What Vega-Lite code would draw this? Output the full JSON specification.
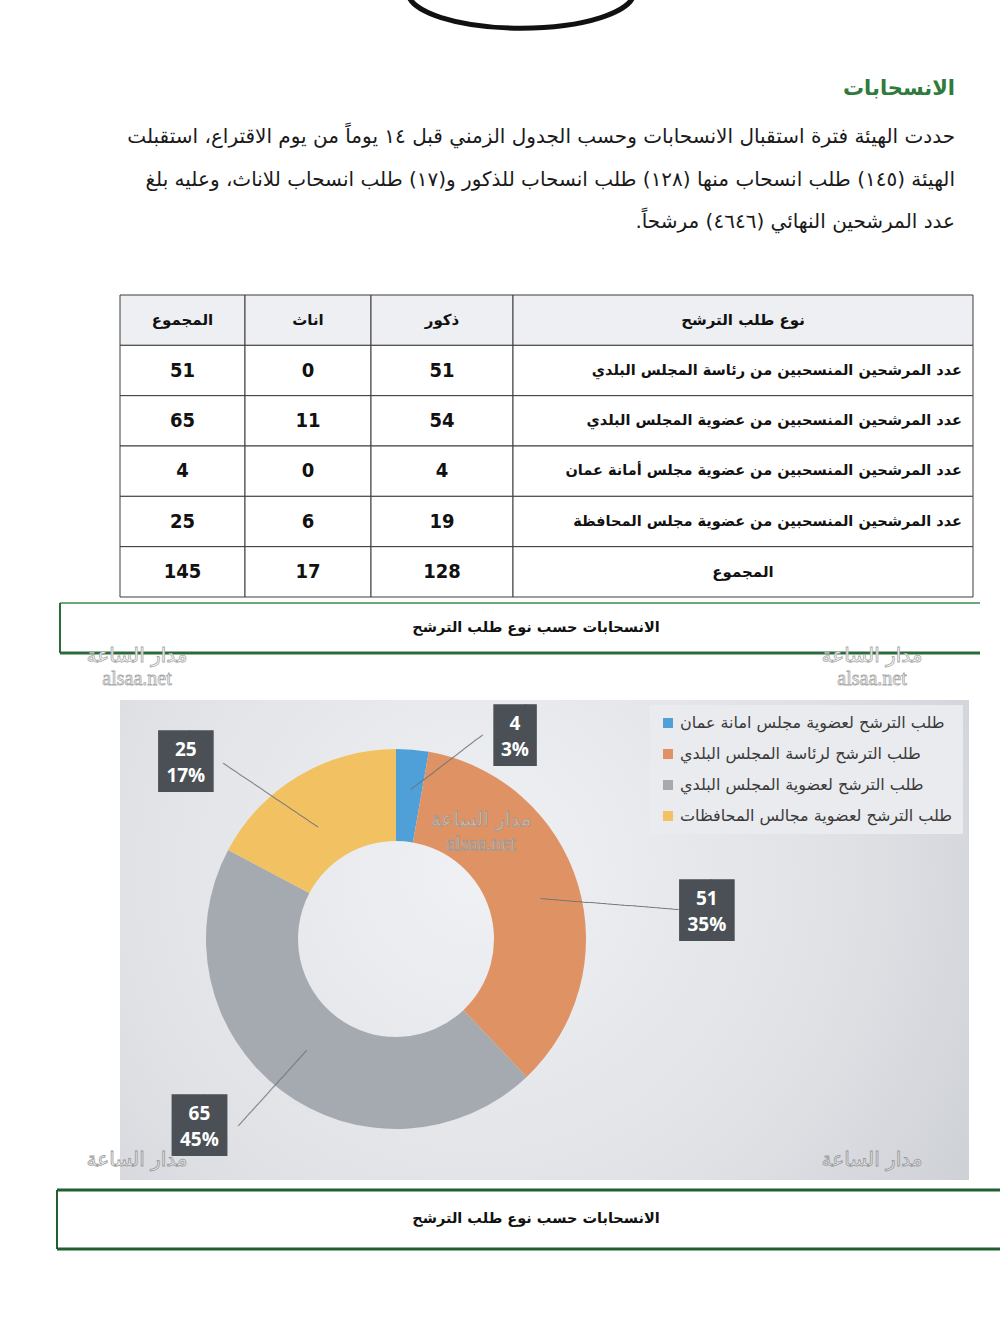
{
  "$schema": "https://vega.github.io/schema/vega-lite/v6.json",
  "background": "white",
  "padding": 0,
  "spacing": 0,
  "config": {"view": {"stroke": null}, "font": "DejaVu Sans", "concat": {"spacing": 0}},
  "datasets": {
    "heading": [{"t": "الانسحابات"}],
    "para": [
      {"line": 1, "t": "حددت الهيئة فترة استقبال الانسحابات وحسب الجدول الزمني قبل ١٤ يوماً من يوم الاقتراع، استقبلت"},
      {"line": 2, "t": "الهيئة (١٤٥) طلب انسحاب منها (١٢٨) طلب انسحاب للذكور و(١٧) طلب انسحاب للاناث، وعليه بلغ"},
      {"line": 3, "t": "عدد المرشحين النهائي (٤٦٤٦) مرشحاً.\u200f"}
    ],
    "table": [
      {"r": "h", "type": "نوع طلب الترشح", "male": "ذكور", "female": "اناث", "total": "المجموع"},
      {"r": "1", "type": "عدد المرشحين المنسحبين من رئاسة المجلس البلدي", "male": 51, "female": 0, "total": 51},
      {"r": "2", "type": "عدد المرشحين المنسحبين من عضوية المجلس البلدي", "male": 54, "female": 11, "total": 65},
      {"r": "3", "type": "عدد المرشحين المنسحبين من عضوية مجلس أمانة عمان", "male": 4, "female": 0, "total": 4},
      {"r": "4", "type": "عدد المرشحين المنسحبين من عضوية مجلس المحافظة", "male": 19, "female": 6, "total": 25},
      {"r": "5", "type": "المجموع", "male": 128, "female": 17, "total": 145}
    ],
    "caption": [{"t": "الانسحابات حسب نوع طلب الترشح"}],
    "donut": [
      {"cat": "طلب الترشح لعضوية مجلس امانة عمان", "value": 4, "pct": "3%", "ord": 1},
      {"cat": "طلب الترشح لرئاسة المجلس البلدي", "value": 51, "pct": "35%", "ord": 2},
      {"cat": "طلب الترشح لعضوية المجلس البلدي", "value": 65, "pct": "45%", "ord": 3},
      {"cat": "طلب الترشح لعضوية مجالس المحافظات", "value": 25, "pct": "17%", "ord": 4}
    ],
    "wm": [{"a": "مدار الساعة", "b": "alsaa.net"}],
    "blank": [{"k": 1}]
  },
  "vconcat": [
    {
      "width": 1000, "height": 294,
      "layer": [
        {"data": {"name": "blank"}, "mark": {"type": "point", "shape": "M -1 0 A 1 0.32 0 1 0 1 0 A 1 0.32 0 1 0 -1 0 Z", "size": 51076, "filled": false, "stroke": "#111111", "strokeWidth": 5, "opacity": 1, "clip": true}, "encoding": {"x": {"value": 521}, "y": {"value": -8}}},
        {"data": {"name": "heading"}, "mark": {"type": "text", "align": "right", "baseline": "middle", "fontSize": 21, "fontWeight": "bold", "fill": "#2e7b3c", "x": 955, "y": 89}, "encoding": {"text": {"field": "t"}}},
        {"data": {"name": "para"}, "mark": {"type": "text", "align": "right", "baseline": "middle", "fontSize": 20, "fill": "#1a1a1a", "x": 955}, "encoding": {"text": {"field": "t"}, "y": {"field": "line", "type": "quantitative", "scale": {"domain": [1, 3], "range": [137, 222]}, "axis": null}}}
      ]
    },
    {
      "bounds": "flush",
      "hconcat": [
        {"width": 120, "height": 302, "data": {"name": "blank"}, "mark": {"type": "text"}, "encoding": {"text": {"value": ""}}},
        {
          "width": 125, "height": 302, "data": {"name": "table"},
          "encoding": {"y": {"field": "r", "type": "nominal", "scale": {"domain": ["h", "1", "2", "3", "4", "5"], "paddingInner": 0, "paddingOuter": 0}, "axis": null}},
          "layer": [
            {"mark": {"type": "rect", "stroke": "#3c3c3c", "strokeWidth": 1}, "encoding": {"fill": {"condition": {"test": "datum.r === 'h'", "value": "#eeeff3"}, "value": "#ffffff"}}},
            {"transform": [{"filter": "datum.r === 'h'"}], "mark": {"type": "text", "fontWeight": "bold", "fontSize": 15, "fill": "#111111"}, "encoding": {"text": {"field": "total"}}},
            {"transform": [{"filter": "datum.r !== 'h'"}], "mark": {"type": "text", "font": "Liberation Sans Narrow, DejaVu Sans Condensed, Liberation Sans, sans-serif", "fontWeight": "bold", "fontSize": 20, "fill": "#111111"}, "encoding": {"text": {"field": "total"}}}
          ]
        },
        {
          "width": 126, "height": 302, "data": {"name": "table"},
          "encoding": {"y": {"field": "r", "type": "nominal", "scale": {"domain": ["h", "1", "2", "3", "4", "5"], "paddingInner": 0, "paddingOuter": 0}, "axis": null}},
          "layer": [
            {"mark": {"type": "rect", "stroke": "#3c3c3c", "strokeWidth": 1}, "encoding": {"fill": {"condition": {"test": "datum.r === 'h'", "value": "#eeeff3"}, "value": "#ffffff"}}},
            {"transform": [{"filter": "datum.r === 'h'"}], "mark": {"type": "text", "fontWeight": "bold", "fontSize": 15, "fill": "#111111"}, "encoding": {"text": {"field": "female"}}},
            {"transform": [{"filter": "datum.r !== 'h'"}], "mark": {"type": "text", "font": "Liberation Sans Narrow, DejaVu Sans Condensed, Liberation Sans, sans-serif", "fontWeight": "bold", "fontSize": 20, "fill": "#111111"}, "encoding": {"text": {"field": "female"}}}
          ]
        },
        {
          "width": 142, "height": 302, "data": {"name": "table"},
          "encoding": {"y": {"field": "r", "type": "nominal", "scale": {"domain": ["h", "1", "2", "3", "4", "5"], "paddingInner": 0, "paddingOuter": 0}, "axis": null}},
          "layer": [
            {"mark": {"type": "rect", "stroke": "#3c3c3c", "strokeWidth": 1}, "encoding": {"fill": {"condition": {"test": "datum.r === 'h'", "value": "#eeeff3"}, "value": "#ffffff"}}},
            {"transform": [{"filter": "datum.r === 'h'"}], "mark": {"type": "text", "fontWeight": "bold", "fontSize": 15, "fill": "#111111"}, "encoding": {"text": {"field": "male"}}},
            {"transform": [{"filter": "datum.r !== 'h'"}], "mark": {"type": "text", "font": "Liberation Sans Narrow, DejaVu Sans Condensed, Liberation Sans, sans-serif", "fontWeight": "bold", "fontSize": 20, "fill": "#111111"}, "encoding": {"text": {"field": "male"}}}
          ]
        },
        {
          "width": 460, "height": 302, "data": {"name": "table"},
          "encoding": {"y": {"field": "r", "type": "nominal", "scale": {"domain": ["h", "1", "2", "3", "4", "5"], "paddingInner": 0, "paddingOuter": 0}, "axis": null}},
          "layer": [
            {"mark": {"type": "rect", "stroke": "#3c3c3c", "strokeWidth": 1}, "encoding": {"fill": {"condition": {"test": "datum.r === 'h'", "value": "#eeeff3"}, "value": "#ffffff"}}},
            {"transform": [{"filter": "datum.r === 'h' || datum.r === '5'"}], "mark": {"type": "text", "fontWeight": "bold", "fontSize": 15, "fill": "#111111"}, "encoding": {"text": {"field": "type"}}},
            {"transform": [{"filter": "datum.r !== 'h' && datum.r !== '5'"}], "mark": {"type": "text", "align": "right", "x": 449, "fontWeight": "bold", "fontSize": 14.5, "fill": "#111111"}, "encoding": {"text": {"field": "type"}}}
          ]
        }
      ]
    },
    {
      "width": 1000, "height": 102,
      "layer": [
        {"data": {"name": "blank"}, "mark": {"type": "rule", "color": "#3f8a52", "strokeWidth": 1.5}, "encoding": {"x": {"value": 60}, "x2": {"value": 980}, "y": {"value": 5}}},
        {"data": {"name": "blank"}, "mark": {"type": "rule", "color": "#2a6b3a", "strokeWidth": 3}, "encoding": {"x": {"value": 60}, "x2": {"value": 980}, "y": {"value": 55}}},
        {"data": {"name": "blank"}, "mark": {"type": "rule", "color": "#2a6b3a", "strokeWidth": 2}, "encoding": {"x": {"value": 60}, "y": {"value": 5}, "y2": {"value": 55}}},
        {"data": {"name": "caption"}, "mark": {"type": "text", "fontWeight": "bold", "fontSize": 14.5, "fill": "#111111", "x": 536, "y": 30, "baseline": "middle"}, "encoding": {"text": {"field": "t"}}},
        {"data": {"name": "wm"}, "mark": {"type": "text", "fontSize": 20, "fill": "#ffffff", "stroke": "#a8a8a8", "strokeWidth": 0.8, "x": 137, "y": 58}, "encoding": {"text": {"field": "a"}}},
        {"data": {"name": "wm"}, "mark": {"type": "text", "font": "Liberation Serif", "fontSize": 20, "fill": "#ffffff", "stroke": "#a8a8a8", "strokeWidth": 0.8, "x": 137, "y": 81}, "encoding": {"text": {"field": "b"}}},
        {"data": {"name": "wm"}, "mark": {"type": "text", "fontSize": 20, "fill": "#ffffff", "stroke": "#a8a8a8", "strokeWidth": 0.8, "x": 872, "y": 58}, "encoding": {"text": {"field": "a"}}},
        {"data": {"name": "wm"}, "mark": {"type": "text", "font": "Liberation Serif", "fontSize": 20, "fill": "#ffffff", "stroke": "#a8a8a8", "strokeWidth": 0.8, "x": 872, "y": 81}, "encoding": {"text": {"field": "b"}}}
      ]
    },
    {
      "bounds": "flush",
      "hconcat": [
        {"width": 120, "height": 480, "data": {"name": "blank"}, "mark": {"type": "text"}, "encoding": {"text": {"value": ""}}},
        {
          "width": 849, "height": 480,
          "data": {"name": "donut"},
          "layer": [
            {"data": {"name": "blank"}, "mark": {"type": "rect", "fill": {"gradient": "radial", "x1": 0.42, "y1": 0.42, "r1": 0, "x2": 0.42, "y2": 0.42, "r2": 0.8, "stops": [{"offset": 0, "color": "#f0f1f4"}, {"offset": 0.55, "color": "#dfe1e5"}, {"offset": 1, "color": "#c6c9cf"}]}}, "encoding": {}},
            {
              "mark": {"type": "arc", "innerRadius": 98, "outerRadius": 190, "x": 276, "y": 239},
              "encoding": {
                "theta": {"field": "value", "type": "quantitative", "stack": true},
                "order": {"field": "ord", "type": "quantitative"},
                "color": {
                  "field": "cat", "type": "nominal",
                  "scale": {"domain": ["طلب الترشح لعضوية مجلس امانة عمان", "طلب الترشح لرئاسة المجلس البلدي", "طلب الترشح لعضوية المجلس البلدي", "طلب الترشح لعضوية مجالس المحافظات"], "range": ["#4f9fd8", "#df9364", "#a5a9b0", "#f2c262"]},
                  "legend": {"orient": "none", "legendX": 650, "legendY": 705, "title": null, "symbolType": "square", "symbolSize": 100, "symbolStrokeWidth": 0, "labelFont": "DejaVu Sans", "labelFontSize": 16, "labelColor": "#3a3a3a", "labelLimit": 400, "fillColor": "#eaebef", "padding": 10, "rowPadding": 15}
                }
              }
            },
            {
              "transform": [{"stack": "value", "groupby": [], "sort": [{"field": "ord", "order": "ascending"}], "as": ["v0", "v1"]}, {"filter": "datum.ord === 1"}],
              "encoding": {"theta": {"field": "v0", "type": "quantitative", "stack": false}},
              "layer": [
                {"mark": {"type": "text", "text": "───────────────", "font": "DejaVu Sans Mono", "fontSize": 10, "fill": "#6f7478", "baseline": "middle", "angle": -37.3, "x": 276, "y": 239, "radius": 183.7, "thetaOffset": 0.281}},
                {"mark": {"type": "text", "text": "█▍", "font": "DejaVu Sans Mono", "fontSize": 52, "fill": "#4a5055", "baseline": "middle", "dx": 10, "x": 276, "y": 239, "radius": 234.5, "thetaOffset": 0.532}},
                {"mark": {"type": "text", "font": "Open Sans", "fontWeight": "bold", "fontSize": 19, "fill": "#ffffff", "baseline": "middle", "dy": -13, "x": 276, "y": 239, "radius": 234.5, "thetaOffset": 0.532}, "encoding": {"text": {"field": "value"}}},
                {"mark": {"type": "text", "font": "Open Sans", "fontWeight": "bold", "fontSize": 19, "fill": "#ffffff", "baseline": "middle", "dy": 13, "x": 276, "y": 239, "radius": 234.5, "thetaOffset": 0.532}, "encoding": {"text": {"field": "pct"}}}
              ]
            },
            {
              "transform": [{"stack": "value", "groupby": [], "sort": [{"field": "ord", "order": "ascending"}], "as": ["v0", "v1"]}, {"filter": "datum.ord === 2"}],
              "encoding": {"theta": {"field": "v0", "type": "quantitative", "stack": false}},
              "layer": [
                {"mark": {"type": "text", "text": "───────────────────────", "font": "DejaVu Sans Mono", "fontSize": 10, "fill": "#6f7478", "baseline": "middle", "angle": 4.45, "x": 276, "y": 239, "radius": 216, "thetaOffset": 1.237}},
                {"mark": {"type": "text", "text": "█▊", "font": "DejaVu Sans Mono", "fontSize": 52, "fill": "#4a5055", "baseline": "middle", "dx": 4, "x": 276, "y": 239, "radius": 312, "thetaOffset": 1.311}},
                {"mark": {"type": "text", "font": "Open Sans", "fontWeight": "bold", "fontSize": 19, "fill": "#ffffff", "baseline": "middle", "dy": -13, "x": 276, "y": 239, "radius": 312, "thetaOffset": 1.311}, "encoding": {"text": {"field": "value"}}},
                {"mark": {"type": "text", "font": "Open Sans", "fontWeight": "bold", "fontSize": 19, "fill": "#ffffff", "baseline": "middle", "dy": 13, "x": 276, "y": 239, "radius": 312, "thetaOffset": 1.311}, "encoding": {"text": {"field": "pct"}}}
              ]
            },
            {
              "transform": [{"stack": "value", "groupby": [], "sort": [{"field": "ord", "order": "ascending"}], "as": ["v0", "v1"]}, {"filter": "datum.ord === 3"}],
              "encoding": {"theta": {"field": "v0", "type": "quantitative", "stack": false}},
              "layer": [
                {"mark": {"type": "text", "text": "─────────────────", "font": "DejaVu Sans Mono", "fontSize": 10, "fill": "#6f7478", "baseline": "middle", "angle": -47.8, "x": 276, "y": 239, "radius": 193.6, "thetaOffset": 1.448}},
                {"mark": {"type": "text", "text": "█▊", "font": "DejaVu Sans Mono", "fontSize": 52, "fill": "#4a5055", "baseline": "middle", "dx": 4, "x": 276, "y": 239, "radius": 272, "thetaOffset": 1.566}},
                {"mark": {"type": "text", "font": "Open Sans", "fontWeight": "bold", "fontSize": 19, "fill": "#ffffff", "baseline": "middle", "dy": -13, "x": 276, "y": 239, "radius": 272, "thetaOffset": 1.566}, "encoding": {"text": {"field": "value"}}},
                {"mark": {"type": "text", "font": "Open Sans", "fontWeight": "bold", "fontSize": 19, "fill": "#ffffff", "baseline": "middle", "dy": 13, "x": 276, "y": 239, "radius": 272, "thetaOffset": 1.566}, "encoding": {"text": {"field": "pct"}}}
              ]
            },
            {
              "transform": [{"stack": "value", "groupby": [], "sort": [{"field": "ord", "order": "ascending"}], "as": ["v0", "v1"]}, {"filter": "datum.ord === 4"}],
              "encoding": {"theta": {"field": "v0", "type": "quantitative", "stack": false}},
              "layer": [
                {"mark": {"type": "text", "text": "───────────────────", "font": "DejaVu Sans Mono", "fontSize": 10, "fill": "#6f7478", "baseline": "middle", "angle": 33.9, "x": 276, "y": 239, "radius": 190.8, "thetaOffset": 0.364}},
                {"mark": {"type": "text", "text": "█▊", "font": "DejaVu Sans Mono", "fontSize": 52, "fill": "#4a5055", "baseline": "middle", "dx": 4, "x": 276, "y": 239, "radius": 274, "thetaOffset": 0.209}},
                {"mark": {"type": "text", "font": "Open Sans", "fontWeight": "bold", "fontSize": 19, "fill": "#ffffff", "baseline": "middle", "dy": -13, "x": 276, "y": 239, "radius": 274, "thetaOffset": 0.209}, "encoding": {"text": {"field": "value"}}},
                {"mark": {"type": "text", "font": "Open Sans", "fontWeight": "bold", "fontSize": 19, "fill": "#ffffff", "baseline": "middle", "dy": 13, "x": 276, "y": 239, "radius": 274, "thetaOffset": 0.209}, "encoding": {"text": {"field": "pct"}}}
              ]
            },
            {"data": {"name": "wm"}, "mark": {"type": "text", "fontSize": 20, "fill": "#ffffff", "fillOpacity": 0.35, "stroke": "#999999", "strokeWidth": 0.8, "x": 361, "y": 120}, "encoding": {"text": {"field": "a"}}},
            {"data": {"name": "wm"}, "mark": {"type": "text", "font": "Liberation Serif", "fontSize": 20, "fill": "#ffffff", "fillOpacity": 0.35, "stroke": "#999999", "strokeWidth": 0.8, "x": 361, "y": 144}, "encoding": {"text": {"field": "b"}}},
            {"data": {"name": "wm"}, "mark": {"type": "text", "fontSize": 20, "fill": "#ffffff", "fillOpacity": 0.35, "stroke": "#999999", "strokeWidth": 0.8, "x": 17, "y": 460}, "encoding": {"text": {"field": "a"}}},
            {"data": {"name": "wm"}, "mark": {"type": "text", "fontSize": 20, "fill": "#ffffff", "fillOpacity": 0.35, "stroke": "#999999", "strokeWidth": 0.8, "x": 752, "y": 460}, "encoding": {"text": {"field": "a"}}}
          ]
        }
      ]
    },
    {
      "width": 1000, "height": 150,
      "layer": [
        {"data": {"name": "blank"}, "mark": {"type": "rule", "color": "#1f5f30", "strokeWidth": 3}, "encoding": {"x": {"value": 57}, "x2": {"value": 1000}, "y": {"value": 10}}},
        {"data": {"name": "blank"}, "mark": {"type": "rule", "color": "#1f5f30", "strokeWidth": 3}, "encoding": {"x": {"value": 57}, "x2": {"value": 1000}, "y": {"value": 69}}},
        {"data": {"name": "blank"}, "mark": {"type": "rule", "color": "#1f5f30", "strokeWidth": 2}, "encoding": {"x": {"value": 57}, "y": {"value": 10}, "y2": {"value": 69}}},
        {"data": {"name": "caption"}, "mark": {"type": "text", "fontWeight": "bold", "fontSize": 14.5, "fill": "#111111", "x": 536, "y": 39, "baseline": "middle"}, "encoding": {"text": {"field": "t"}}}
      ]
    }
  ]
}
